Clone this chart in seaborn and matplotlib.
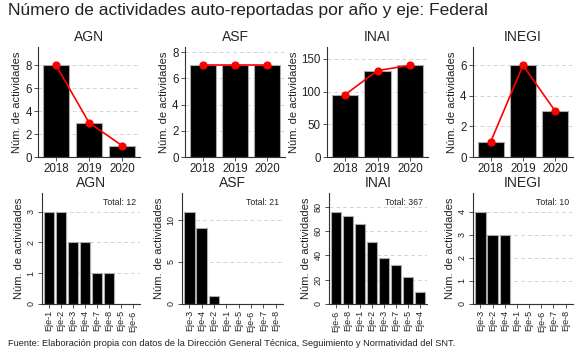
import matplotlib
matplotlib.use("Agg")
import matplotlib.pyplot as plt
import seaborn as sns
import pandas as pd

sns.set_theme(style="white")
plt.rcParams['font.family'] = ['Liberation Sans', 'DejaVu Sans']

entities = ["AGN", "ASF", "INAI", "INEGI"]
years = ["2018", "2019", "2020"]
year_vals = {
    "AGN": [8, 3, 1],
    "ASF": [7, 7, 7],
    "INAI": [95, 132, 140],
    "INEGI": [1, 6, 3],
}
year_ticks = {
    "AGN": [0, 2, 4, 6, 8],
    "ASF": [0, 2, 4, 6, 8],
    "INAI": [0, 50, 100, 150],
    "INEGI": [0, 2, 4, 6],
}
eje_labels = {
    "AGN": ["Eje-1", "Eje-2", "Eje-3", "Eje-4", "Eje-7", "Eje-8", "Eje-5", "Eje-6"],
    "ASF": ["Eje-3", "Eje-4", "Eje-2", "Eje-1", "Eje-5", "Eje-6", "Eje-7", "Eje-8"],
    "INAI": ["Eje-6", "Eje-8", "Eje-1", "Eje-2", "Eje-3", "Eje-7", "Eje-5", "Eje-4"],
    "INEGI": ["Eje-3", "Eje-2", "Eje-4", "Eje-1", "Eje-5", "Eje-6", "Eje-7", "Eje-8"],
}
eje_vals = {
    "AGN": [3, 3, 2, 2, 1, 1, 0, 0],
    "ASF": [11, 9, 1, 0, 0, 0, 0, 0],
    "INAI": [76, 72, 66, 51, 38, 32, 22, 10],
    "INEGI": [4, 3, 3, 0, 0, 0, 0, 0],
}
eje_ticks = {
    "AGN": [0, 1, 2, 3],
    "ASF": [0, 5, 10],
    "INAI": [0, 20, 40, 60, 80],
    "INEGI": [0, 1, 2, 3, 4],
}

W, H = 583, 351
fig = plt.figure(figsize=(W / 100, H / 100), dpi=100)

top_lefts = [38, 185, 327, 473]
bot_lefts = [42, 182, 329, 473]
top_widths = [102, 100, 101, 100]
bot_widths = [98, 101, 98, 100]


def style_axis(ax, labelsize):
    for s in ["top", "right"]:
        ax.spines[s].set_visible(False)
    for s in ["left", "bottom"]:
        ax.spines[s].set_color("#333333")
        ax.spines[s].set_linewidth(0.8)
    ax.tick_params(axis="both", which="both", length=3, width=0.6, color="#333333",
                   labelsize=labelsize, pad=1.5, left=True, bottom=True,
                   labelcolor="#222222")
    ax.yaxis.grid(True, linestyle=(0, (4, 3)), color="#d4d4d4", linewidth=0.7)
    ax.xaxis.grid(False)
    ax.set_axisbelow(True)
    ax.set_facecolor("white")


for i, ent in enumerate(entities):
    ax = fig.add_axes([top_lefts[i] / W, 1 - 157 / H, top_widths[i] / W, 110 / H])
    df = pd.DataFrame({"year": years, "n": year_vals[ent]})
    sns.barplot(data=df, x="year", y="n", color="black", edgecolor="#aaaaaa",
                linewidth=0.8, width=0.8, saturation=1, ax=ax)
    sns.pointplot(data=df, x="year", y="n", color="red", markersize=5,
                  linewidth=1.2, ax=ax)
    ax.set_ylim(0, max(year_vals[ent]) * 1.2)
    ax.set_xlim(-0.55, 2.55)
    ax.set_yticks(year_ticks[ent])
    ax.set_xlabel("")
    ax.set_ylabel("Núm. de actividades", fontsize=8, labelpad=2, color="#222222")
    ax.set_title(ent, fontsize=10, pad=4)
    style_axis(ax, 8.3)

for i, ent in enumerate(entities):
    ax = fig.add_axes([bot_lefts[i] / W, 1 - 304 / H, bot_widths[i] / W, 111 / H])
    df = pd.DataFrame({"eje": eje_labels[ent], "n": eje_vals[ent]})
    sns.barplot(data=df, x="eje", y="n", color="black", edgecolor="#aaaaaa",
                linewidth=0.8, width=0.85, saturation=1, ax=ax)
    ax.set_ylim(0, max(eje_vals[ent]) * 1.2)
    ax.set_xlim(-0.6, 7.6)
    ax.set_yticks(eje_ticks[ent])
    ax.set_xlabel("")
    ax.set_ylabel("Núm. de actividades", fontsize=8, labelpad=2, color="#222222")
    ax.set_title(ent, fontsize=10, pad=4)
    style_axis(ax, 6.5)
    ax.tick_params(axis="x", labelrotation=90)
    ax.tick_params(axis="y", labelrotation=90)
    for lab in ax.get_yticklabels():
        lab.set_va("center")
    ax.text(0.96, 0.91, f"Total: {sum(eje_vals[ent])}", transform=ax.transAxes,
            ha="right", va="center", fontsize=6.3, color="#222222")

fig.text(8 / W, 1 - 11 / H, "Número de actividades auto-reportadas por año y eje: Federal",
         fontsize=12.5, ha="left", va="center", color="#222222")
fig.text(8 / W, 1 - 343 / H,
         "Fuente: Elaboración propia con datos de la Dirección General Técnica, Seguimiento y Normatividad del SNT.",
         fontsize=6.7, ha="left", va="center", color="#222222")

fig.savefig("out.png", dpi=100, facecolor="white")
